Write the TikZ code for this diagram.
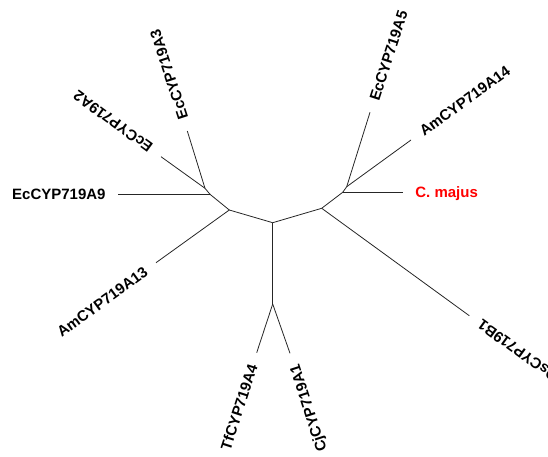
\documentclass[tikz,border=0pt]{standalone}
\usepackage{fontspec}
\setmainfont{Liberation Sans}
\begin{document}
\begin{tikzpicture}[x=1pt,y=-1pt,
  br/.style={line width=0.8pt, draw=black!85},
  lbl/.style={font=\fontsize{15}{15}\selectfont\bfseries, inner xsep=12.5pt, inner ysep=0pt, text height=10.7pt, text depth=0pt}]
\useasboundingbox (0,0) rectangle (548,457);
\clip (0,0) rectangle (548,457);
% internal nodes
\coordinate (c)  at (272.7,222.7);
\coordinate (L)  at (229.3,210);
\coordinate (L2) at (210,194.3);
\coordinate (L3) at (205,188.3);
\coordinate (R)  at (321.7,208.3);
\coordinate (R2) at (342.7,192.3);
\coordinate (R3) at (346.7,186.7);
\coordinate (B)  at (272.7,304);
% leaf ends
\coordinate (e9)  at (118.3,194.3);
\coordinate (e2)  at (161,156.7);
\coordinate (e3)  at (187.3,131);
\coordinate (e13) at (156,262.7);
\coordinate (e4)  at (256.7,352.7);
\coordinate (e1)  at (290,353.3);
\coordinate (eOs) at (469.3,315.7);
\coordinate (em)  at (402.7,192.3);
\coordinate (e14) at (411,140);
\coordinate (e5)  at (370,112.3);
% labels
\node[lbl, anchor=east] (t9) at (e9) {EcCYP719A9};
\node[lbl, anchor=west, rotate=144] (t2) at (e2) {EcCYP719A2};
\node[lbl, anchor=west, rotate=108] (t3) at (e3) {EcCYP719A3};
\node[lbl, anchor=west, rotate=72] (t5) at (e5) {EcCYP719A5};
\node[lbl, anchor=west, rotate=36] (t14) at (e14) {AmCYP719A14};
\node[lbl, anchor=west, text=red] (tm) at (em) {C. majus};
\node[lbl, anchor=east, rotate=144] (tOs) at (eOs) {OsCYP719B1};
\node[lbl, anchor=east, rotate=108] (t1) at (e1) {CjCYP719A1};
\node[lbl, anchor=east, rotate=72] (t4) at (e4) {TfCYP719A4};
\node[lbl, anchor=east, rotate=36] (t13) at (e13) {AmCYP719A13};
% branches
\draw[br] (L3) -- (e2);
\draw[br] (L3) -- (e3);
\draw[br] (L3) -- (L2);
\draw[br] (L2) -- (e9);
\draw[br] (L2) -- (L);
\draw[br] (L) -- (e13);
\draw[br] (L) -- (c);
\draw[br] (c) -- (B);
\draw[br] (B) -- (e4);
\draw[br] (B) -- (e1);
\draw[br] (c) -- (R);
\draw[br] (R) -- (eOs);
\draw[br] (R) -- (R2);
\draw[br] (R2) -- (em);
\draw[br] (R2) -- (R3);
\draw[br] (R3) -- (e5);
\draw[br] (R3) -- (e14);
\end{tikzpicture}
\end{document}
